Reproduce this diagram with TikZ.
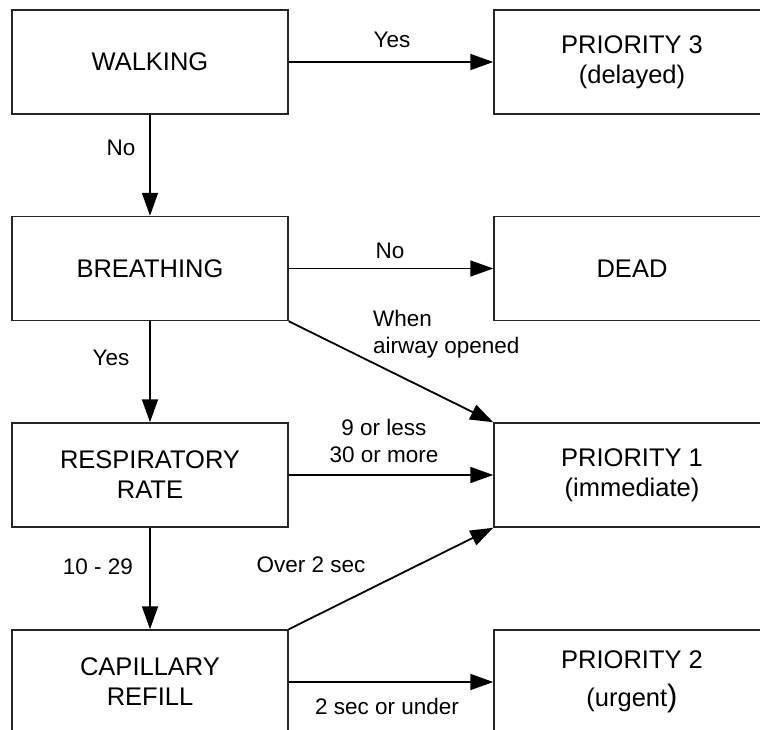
\documentclass[tikz,border=0pt]{standalone}
\usepackage{fontspec}
\setmainfont{Liberation Sans}
\usetikzlibrary{arrows.meta}
\begin{document}
\begin{tikzpicture}[x=1pt,y=-1pt,
  box/.style={draw=black!85, line width=1.5pt, minimum width=276pt,
    minimum height=104pt, inner sep=0pt, align=center,
    font=\fontsize{25.5}{30}\selectfont},
  lbl/.style={inner sep=0pt, font=\fontsize{22.5}{27}\selectfont},
  flow/.style={line width=1.8pt, -{Triangle[length=23pt,width=16pt]}}]
\useasboundingbox (0,0) rectangle (760,729);

% decision boxes (left column)
\node[box] (walk)   at (150,62)    {WALKING};
\node[box] (breath) at (150,268.5) {BREATHING};
\node[box] (resp)   at (150,475)   {RESPIRATORY\\RATE};
\node[box] (cap)    at (150,682)   {CAPILLARY\\REFILL};

% outcome boxes (right column)
\node[box] (p3)   at (632,62)    {PRIORITY 3\\(delayed)};
\node[box] (dead) at (632,268.5) {DEAD};
\node[box] (p1)   at (632,475)   {PRIORITY 1\\(immediate)};
\node[box] (p2)   at (632,682)   {PRIORITY 2\\[8pt](urgent{\fontsize{31}{31}\selectfont)}};

% connectors
\draw[flow] (walk.east) -- (p3.west);
\draw[flow] (walk.south) -- (breath.north);
\draw[flow] (breath.east) -- (dead.west);
\draw[flow] (breath.south east) -- (p1.north west);
\draw[flow] (breath.south) -- (resp.north);
\draw[flow] (resp.east) -- (p1.west);
\draw[flow] (resp.south) -- (cap.north);
\draw[flow] (cap.north east) -- (p1.south west);
\draw[flow] (cap.east) -- (p2.west);

% connector labels
\node[lbl] (lyesa)  at (392,40)  {Yes};
\node[lbl] (lnoa)   at (121,148) {No};
\node[lbl] (lnob)   at (390,251) {No};
\node[lbl, anchor=west, align=left] (lair) at (373,334) {When\\airway opened};
\node[lbl] (lyesb)  at (111,358) {Yes};
\node[lbl, align=center] (lrate) at (384,441) {9 or less\\30 or more};
\node[lbl] (lten)   at (98,567)  {10 - 29};
\node[lbl] (lover)  at (311,565) {Over 2 sec};
\node[lbl] (lunder) at (387,706) {2 sec or under};
\end{tikzpicture}
\end{document}
